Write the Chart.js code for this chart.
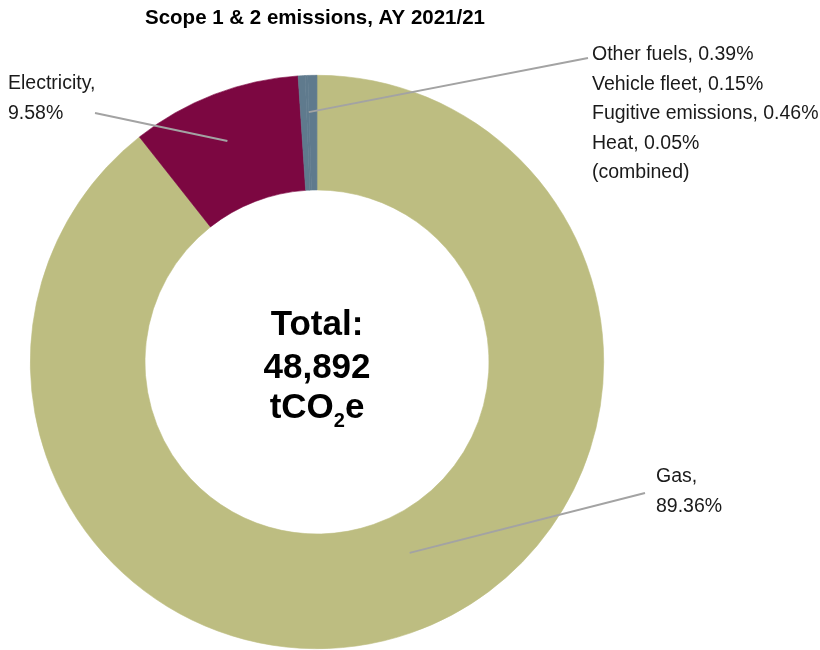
<!DOCTYPE html>
<html>
<head>
<meta charset="utf-8">
<title>Scope 1 & 2 emissions</title>
<script src="https://cdn.jsdelivr.net/npm/chart.js@4.4.1/dist/chart.umd.min.js"></script>
<style>
  body { margin: 0; background: #fff; }
  #wrap { position: relative; width: 820px; height: 650px; }
</style>
</head>
<body>
<div id="wrap"><canvas id="emissionsChart"></canvas></div>
<script>
// emission sources and their share of the total (%)
const categories = ['Gas', 'Electricity', 'Other fuels', 'Vehicle fleet', 'Fugitive emissions', 'Heat'];
const shares = [89.36, 9.58, 0.39, 0.15, 0.46, 0.05];
const sliceColours = ['#BDBD81', '#7C0741', '#5F7A8D', '#5F7A8D', '#5F7A8D', '#5F7A8D'];
const chartTitle = 'Scope 1 & 2 emissions, AY 2021/21';
const totalValue = '48,892';

const LABEL_FONT = '19.5px "Liberation Sans", Arial, sans-serif';
const LINE_COLOUR = '#A3A3A3';

const pct = i => shares[i].toFixed(2) + '%';

// callouts: slice range, where the leader starts inside the ring (t = along arc, r = across ring)
const callouts = [
  { from: 0, to: 0, t: 0.479, r: 0.35, end: [645, 493],
    lines: [categories[0] + ',', pct(0)], x: 656, y: 477 },
  { from: 1, to: 1, t: 0.47, r: 0.58, end: [95, 113],
    lines: [categories[1] + ',', pct(1)], x: 8, y: 84 },
  { from: 2, to: 5, t: 0.5, r: 0.68, end: [588, 58],
    lines: [2, 3, 4, 5].map(i => categories[i] + ', ' + pct(i)).concat(['(combined)']), x: 592, y: 55 }
];

function anchorPoint(meta, c) {
  const a0 = meta.data[c.from];
  const a1 = meta.data[c.to];
  const ang = a0.startAngle + (a1.endAngle - a0.startAngle) * c.t;
  const rad = a0.innerRadius + (a0.outerRadius - a0.innerRadius) * c.r;
  return [a0.x + Math.cos(ang) * rad, a0.y + Math.sin(ang) * rad];
}

const annotations = {
  id: 'annotations',
  afterDraw(chart) {
    const ctx = chart.ctx;
    const meta = chart.getDatasetMeta(0);
    const cx = meta.data[0].x;
    const cy = meta.data[0].y;
    ctx.save();

    // title
    ctx.fillStyle = '#000';
    ctx.font = 'bold 20.5px "Liberation Sans", Arial, sans-serif';
    ctx.textAlign = 'center';
    ctx.textBaseline = 'middle';
    ctx.fillText(chartTitle, 315, 18);

    // leader lines
    ctx.strokeStyle = LINE_COLOUR;
    ctx.lineWidth = 2;
    callouts.forEach(c => {
      const p = anchorPoint(meta, c);
      ctx.beginPath();
      ctx.moveTo(p[0], p[1]);
      ctx.lineTo(c.end[0], c.end[1]);
      ctx.stroke();
    });

    // callout text
    ctx.fillStyle = '#1A1A1A';
    ctx.font = LABEL_FONT;
    ctx.textAlign = 'left';
    callouts.forEach(c => {
      c.lines.forEach((txt, k) => ctx.fillText(txt, c.x, c.y + k * 29.5));
    });

    // total in the middle
    ctx.fillStyle = '#000';
    ctx.textAlign = 'center';
    ctx.textBaseline = 'alphabetic';
    const big = 'bold 35px "Liberation Sans", Arial, sans-serif';
    const small = 'bold 20px "Liberation Sans", Arial, sans-serif';
    ctx.font = big;
    ctx.fillText('Total:', cx, cy - 27);
    ctx.fillText(totalValue, cx, cy + 16);

    // tCO2e with subscript
    ctx.textAlign = 'left';
    const w1 = ctx.measureText('tCO').width;
    const w3 = ctx.measureText('e').width;
    ctx.font = small;
    const w2 = ctx.measureText('2').width;
    let x = cx - (w1 + w2 + w3) / 2;
    const base = cy + 56;
    ctx.font = big;
    ctx.fillText('tCO', x, base);
    x += w1;
    ctx.font = small;
    ctx.fillText('2', x, base + 9);
    x += w2;
    ctx.font = big;
    ctx.fillText('e', x, base);

    ctx.restore();
  }
};

new Chart(document.getElementById('emissionsChart'), {
  type: 'doughnut',
  data: {
    labels: categories,
    datasets: [{
      data: shares,
      backgroundColor: sliceColours,
      // same-colour hairline hides the seams between the small slices
      borderColor: sliceColours,
      borderWidth: 0.6
    }]
  },
  options: {
    responsive: true,
    maintainAspectRatio: false,
    animation: false,
    events: [],
    cutout: '60%',
    layout: { padding: { left: 30, right: 216, top: 75, bottom: 1 } },
    plugins: {
      legend: { display: false },
      tooltip: { enabled: false }
    }
  },
  plugins: [annotations]
});
</script>
</body>
</html>
